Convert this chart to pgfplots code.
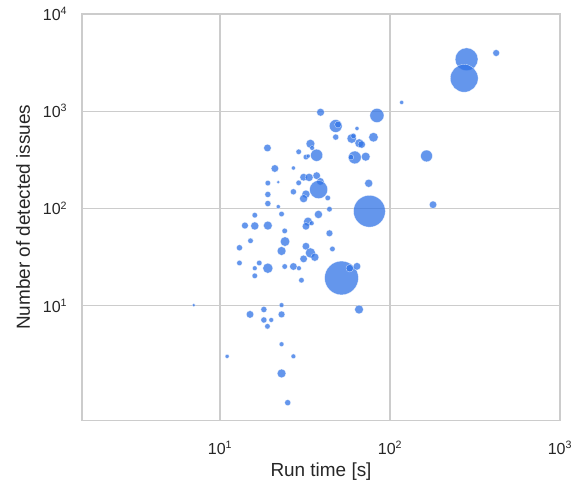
\documentclass[border=0pt]{standalone}
\usepackage{pgfplots}
\pgfplotsset{compat=1.18}
\usepackage{pgfplotstable}
\usepackage{fontspec}
\setmainfont{Liberation Sans}
\definecolor{ptblue}{RGB}{48,115,230}
\definecolor{gridgray}{RGB}{204,204,204}
\definecolor{txt}{RGB}{38,38,38}

% run time [s], detected issues, marker diameter [px]
\pgfplotstableread{
x y d
421 3970 6
282 3420 22
273 2180 27
117 1230 3.3
164 346 11
179 109 6.7
39 974 7
83.7 903 13.3
47.9 704 12
49.4 728 6
63.9 664 3.3
47.9 541 5.3
59.5 523 8.7
60.9 556 4.7
79.9 539 8.7
65.9 468 8
68.1 454 6.7
34.0 462 8
34.8 418 4
19.0 418 6.7
29.0 382 4.7
37.0 352 11.3
32.0 337 4.7
33.0 345 3.3
62.0 334 12
58.9 336 4.7
71.9 340 8
21.0 257 6.7
27.0 260 3.3
19.1 182 4.7
22.0 186 2.7
29.0 183 4.7
31.0 209 6.7
33.4 208 7.3
37.0 217 6.7
38.9 189 6.7
38.0 156 17.3
74.9 181 7.3
27.0 148 5.3
32.0 140 7.3
31.0 126 7.3
43.0 128 4.7
19.1 139 5.3
19.1 112 5.3
22.0 104 3.3
23.0 87.4 4.7
16.0 85 4.7
37.9 86.5 7.3
44.0 98 4.7
75.6 93.4 31
14.0 66.5 6
16.0 65.9 7.3
19.1 66.5 8
24.0 58.6 4.7
32.9 73 8
32.0 65.4 6.7
34.6 70.3 4
44.0 55.4 6
15.1 46.4 4.7
24.1 45.5 8.7
13.0 39.3 5.3
23.0 36.4 8
32.0 40.7 6.7
34.0 34.8 9.3
36.1 31.4 7.3
31.0 30.2 6.7
45.8 38.2 4.7
13.0 27.4 4.7
17.0 27.4 4.7
16.0 24.2 4
19.1 24.2 9.3
24.0 25.2 4.7
27.0 25.2 6.7
29.1 24.2 4
16.0 20.2 4.7
30.1 18.2 4.7
51.8 19.2 33
57.9 24.2 6.7
63.9 25.3 6.7
7.0 10.1 2.7
23.0 10.1 4
18.1 9.1 5.3
15.0 8.1 6.7
23.0 8.1 6
65.7 9.1 8
18.1 7.1 5.3
20.0 7.1 4
19.0 6.1 4.7
23.0 4.0 4
11.0 3.0 3.3
27.0 3.0 4
23.0 2.0 8
25.0 1.0 5.3
}\runs

\begin{document}
\begin{tikzpicture}
\useasboundingbox (-61.5pt,-49.1pt) rectangle (376.5pt,315.4pt);
\begin{axis}[
  scale only axis, width=358.5pt, height=304.9pt,
  at={(0,0)}, anchor=south west,
  xmode=log, ymode=log,
  xmin=1.54, xmax=1000, ymin=0.655, ymax=10000,
  xtick={10,100,1000},
  xticklabels={10\textsuperscript{1},10\textsuperscript{2},10\textsuperscript{3}},
  ytick={10,100,1000,10000},
  yticklabels={10\textsuperscript{1},10\textsuperscript{2},10\textsuperscript{3},10\textsuperscript{4}},
  minor xtick={}, minor ytick={},
  /pgf/number format/assume math mode=true,
  major tick length=0pt,
  tick style={draw=none},
  grid=major,
  major grid style={draw=gridgray, line width=1pt},
  axis line style={draw=gridgray, line width=1pt},
  ticklabel style={font=\fontsize{12}{14}\selectfont, text=txt},
  xticklabel style={anchor=base, yshift=-25.5pt},
  yticklabel style={xshift=-7.5pt},
  every axis x label/.style={at={(axis description cs:0.5,-0.1382)}, anchor=base,
    font=\fontsize{14.2}{17}\selectfont, text=txt},
  every axis y label/.style={at={(axis description cs:-0.1234,0.5)}, rotate=90, anchor=center,
    font=\fontsize{14.2}{17}\selectfont, text=txt},
  xlabel={Run time [s]},
  ylabel={Number of detected issues},
]
\addplot[scatter, only marks, mark=*,
  point meta=\thisrow{d},
  scatter/use mapped color={draw=white, fill=ptblue},
  visualization depends on={0.375*\thisrow{d}+0.3 \as \rad},
  scatter/@pre marker code/.append style={/tikz/mark size=\rad},
  mark options={line width=0.25pt, opacity=0.75},
] table[x=x, y=y] {\runs};
\end{axis}
\end{tikzpicture}
\end{document}
